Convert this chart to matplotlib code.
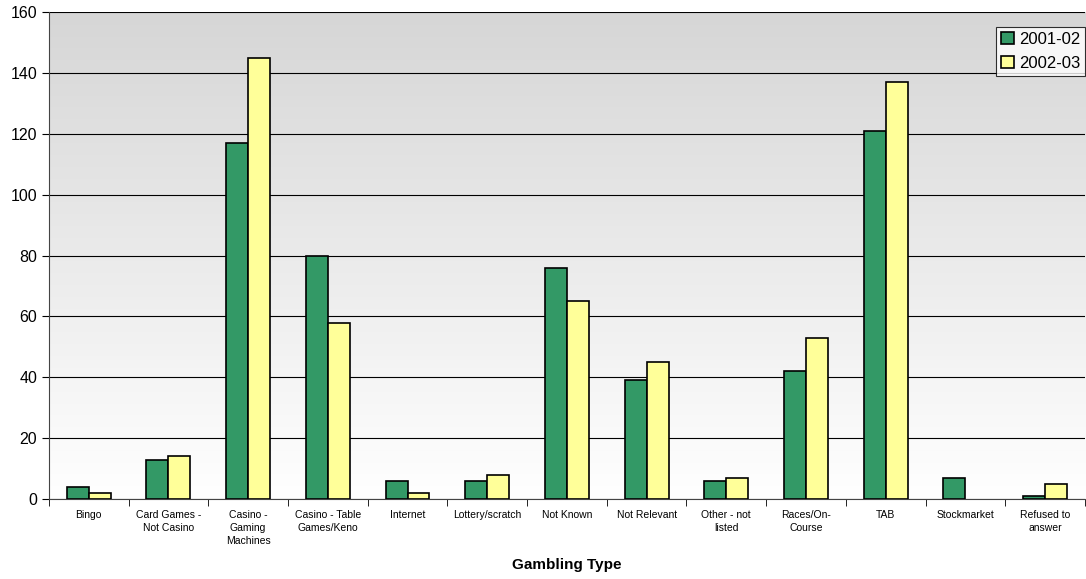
import numpy as np
import matplotlib.pyplot as plt

plt.rcParams['font.family'] = ['Liberation Sans', 'DejaVu Sans']

categories = ["Bingo", "Card Games -\nNot Casino", "Casino -\nGaming\nMachines",
              "Casino - Table\nGames/Keno", "Internet", "Lottery/scratch", "Not Known",
              "Not Relevant", "Other - not\nlisted", "Races/On-\nCourse", "TAB",
              "Stockmarket", "Refused to\nanswer"]
y2001 = [4, 13, 117, 80, 6, 6, 76, 39, 6, 42, 121, 7, 1]
y2002 = [2, 14, 145, 58, 2, 8, 65, 45, 7, 53, 137, 0, 5]

fig = plt.figure(figsize=(10.86, 5.79), dpi=100)
ax = fig.add_axes([0.045, 0.138, 0.954, 0.841])

x = np.arange(len(categories))
w = 0.275

# gradient background, grey at top to white at bottom
grad = np.linspace(0, 1, 256).reshape(-1, 1)
ax.imshow(grad, cmap=plt.matplotlib.colors.LinearSegmentedColormap.from_list(
    'bg', ['#ffffff', '#d6d6d6']), aspect='auto', origin='lower',
    extent=[-0.5, len(categories) - 0.5, 0, 160], zorder=0)

# no outline for empty bars
lw1 = [1.2 if v > 0 else 0 for v in y2001]
lw2 = [1.2 if v > 0 else 0 for v in y2002]
ax.bar(x - w / 2, y2001, w, color='#339966', edgecolor='black', linewidth=lw1,
       label='2001-02', zorder=3)
ax.bar(x + w / 2, y2002, w, color='#ffff99', edgecolor='black', linewidth=lw2,
       label='2002-03', zorder=3)

ax.set_xlim(-0.5, len(categories) - 0.5)
ax.set_ylim(0, 160)
ax.set_yticks(range(0, 161, 20))
ax.yaxis.grid(True, color='black', linewidth=0.8, zorder=1)
ax.set_axisbelow(True)

ax.set_xticks(x)
ax.set_xticklabels(categories, fontsize=7.5, linespacing=1.35)
ax.set_xticks(np.arange(-0.5, len(categories), 1), minor=True)
ax.tick_params(axis='x', which='major', length=0, pad=8)
ax.tick_params(axis='x', which='minor', length=5, direction='out')
ax.tick_params(axis='y', labelsize=11.5, length=5, direction='out')

for s in ['top', 'right']:
    ax.spines[s].set_visible(False)
ax.spines['left'].set_color('#444444')
ax.spines['bottom'].set_color('#444444')

ax.set_xlabel('Gambling Type', fontsize=11, fontweight='bold', labelpad=9)

leg = ax.legend(loc='upper right', bbox_to_anchor=(1.0, 0.97), fontsize=12,
                frameon=True, fancybox=False, edgecolor='black',
                handlelength=0.75, handleheight=0.75, handletextpad=0.3,
                borderpad=0.3, labelspacing=0.55, borderaxespad=0)
leg.get_frame().set_linewidth(0.8)
leg.get_frame().set_facecolor('white')

fig.savefig('out.png', dpi=100)
